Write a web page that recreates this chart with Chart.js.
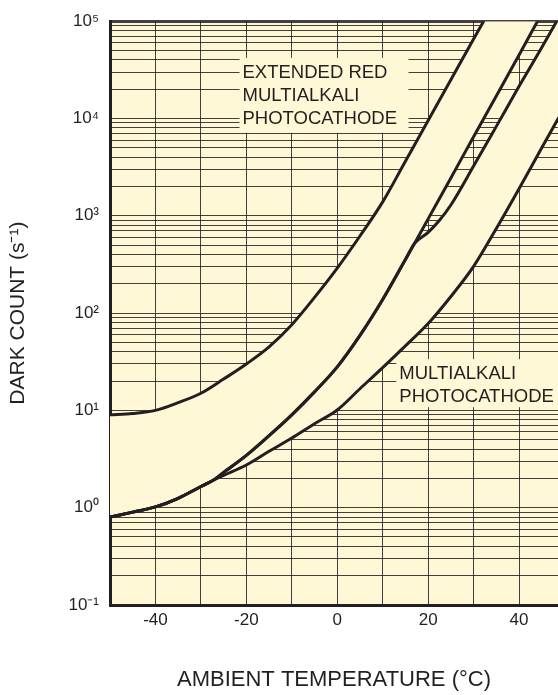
<!DOCTYPE html>
<html>
<head>
<meta charset="utf-8">
<title>Dark count vs ambient temperature</title>
<script src="https://cdn.jsdelivr.net/npm/chart.js@4.4.1/dist/chart.umd.min.js"></script>
<style>
  html, body { margin: 0; padding: 0; background: #fff; overflow: hidden; }
  #wrap { position: relative; width: 558px; height: 695px; }
</style>
</head>
<body>
<div id="wrap"><canvas id="darkCount"></canvas></div>
<script>
// temperature (°C) / dark count (s-1)
const extRedUpperT = [-50, -45, -40, -35, -30, -25, -20, -15, -10, -5, 0, 5, 10, 15, 20, 25, 30, 35, 40, 45, 50];
const extRedUpper  = [9.0, 9.3, 10, 12, 15, 21, 30, 45, 76, 145, 290, 620, 1390, 3640, 9550, 25000, 65500, 170000, 450000, 1200000, 3100000];

const extRedLowerT = [-50, -45, -40, -35, -30, -27, -25, -20, -15, -10, -5, 0, 5, 10, 15, 17, 20, 25, 30, 35, 40, 45, 50];
const extRedLower  = [0.8, 0.9, 1.02, 1.25, 1.65, 1.95, 2.3, 3.45, 5.5, 9, 15.5, 28, 59, 138, 355, 520, 930, 2450, 6500, 17000, 45000, 120000, 310000];

const multiUpperT = [-50, -45, -40, -35, -30, -27, -25, -20, -15, -10, -5, 0, 5, 10, 15, 17, 20, 22.5, 25, 30, 35, 40, 45, 50];
const multiUpper  = [0.8, 0.9, 1.02, 1.25, 1.65, 1.95, 2.3, 3.45, 5.5, 9, 15.5, 28, 59, 138, 355, 520, 676, 900, 1290, 3240, 8300, 21400, 53700, 138000];

const multiLowerT = [-50, -45, -40, -35, -30, -27, -25, -20, -15, -10, -5, 0, 5, 10, 15, 20, 25, 30, 35, 40, 45, 50];
const multiLower  = [0.8, 0.9, 1.02, 1.25, 1.65, 1.95, 2.15, 2.75, 3.8, 5.2, 7.3, 10.1, 16.7, 27.5, 46, 78, 148, 302, 740, 1900, 5000, 13000];

// axis ticks
const xGridValues = [-50, -40, -30, -20, -10, 0, 10, 20, 30, 40];
const xTickLabels = [-40, -20, 0, 20, 40];
const yDecades = [0.1, 1, 10, 100, 1000, 10000, 100000];
const yTickLabels = ['10⁻¹', '10⁰', '10¹', '10²', '10³', '10⁴', '10⁵'];

const extRedNote = ['EXTENDED RED', 'MULTIALKALI', 'PHOTOCATHODE'];
const multiNote = ['MULTIALKALI', 'PHOTOCATHODE'];

const PAPER = '#fff8d6';
const INK = '#231f20';
const GRID = 'rgba(35, 31, 32, 0.85)';
const FONT = '"Liberation Sans", Arial, Helvetica, sans-serif';

function toPoints(xs, ys) {
  return xs.map((t, i) => ({ x: t, y: ys[i] }));
}

// every 1..9 x decade gets a grid line
const yGridValues = [];
yDecades.forEach((d, i) => {
  if (i === yDecades.length - 1) { yGridValues.push(d); return; }
  for (let k = 1; k <= 9; k++) yGridValues.push(+(d * k).toPrecision(3));
});

const plotBackground = {
  id: 'plotBackground',
  beforeDraw(chart) {
    const { ctx, chartArea: a } = chart;
    ctx.save();
    ctx.fillStyle = PAPER;
    ctx.fillRect(a.left, a.top, a.right - a.left, a.bottom - a.top);
    ctx.restore();
  },
};

// text boxes that hide the grid behind them
const bandNotes = {
  id: 'bandNotes',
  beforeDatasetsDraw(chart) {
    const { ctx, chartArea: a, scales: { x, y } } = chart;
    const notes = [
      { x: -21.5, y: 42000, w: 169, h: 75, lines: extRedNote },
      { x: 13.0, y: 33.6, w: 170, h: 48, lines: multiNote },
    ];
    ctx.save();
    ctx.beginPath();
    ctx.rect(a.left, a.top, a.right - a.left, a.bottom - a.top);
    ctx.clip();
    ctx.font = '18.5px ' + FONT;
    ctx.textBaseline = 'alphabetic';
    notes.forEach(n => {
      const left = x.getPixelForValue(n.x);
      const top = y.getPixelForValue(n.y);
      ctx.fillStyle = PAPER;
      ctx.fillRect(left, top, n.w, n.h);
      ctx.fillStyle = INK;
      n.lines.forEach((line, i) => {
        ctx.fillText(line, left + 3, top + 20 + i * 23);
      });
    });
    ctx.restore();
  },
};

function curve(label, xs, ys, fill) {
  return {
    label: label,
    data: toPoints(xs, ys),
    borderColor: INK,
    borderWidth: 3,
    backgroundColor: PAPER,
    fill: fill,
    pointRadius: 0,
    cubicInterpolationMode: 'monotone',
    clip: 0,
  };
}

const ctx = document.getElementById('darkCount').getContext('2d');
new Chart(ctx, {
  type: 'line',
  data: {
    datasets: [
      curve('Extended red upper', extRedUpperT, extRedUpper, '+1'),
      curve('Extended red lower', extRedLowerT, extRedLower, false),
      curve('Multialkali upper', multiUpperT, multiUpper, '+1'),
      curve('Multialkali lower', multiLowerT, multiLower, false),
    ],
  },
  options: {
    responsive: true,
    maintainAspectRatio: false,
    animation: false,
    events: [],
    layout: { padding: { left: 0, right: 0, top: 16, bottom: 0 } },
    plugins: {
      legend: { display: false },
      tooltip: { enabled: false },
      filler: { drawTime: 'beforeDatasetsDraw' },
    },
    scales: {
      x: {
        type: 'linear',
        min: -50,
        max: 48.57,
        afterBuildTicks: s => { s.ticks = xGridValues.map(v => ({ value: v })); },
        afterFit: s => { s.height = 90; },
        border: { color: INK, width: 3 },
        grid: { color: GRID, lineWidth: 1, drawTicks: false },
        ticks: {
          autoSkip: false,
          maxRotation: 0,
          padding: 5,
          color: INK,
          font: { family: FONT, size: 17 },
          callback: v => (xTickLabels.indexOf(v) < 0 ? '' : String(v)),
        },
        title: {
          display: true,
          text: 'AMBIENT TEMPERATURE (°C)',
          color: INK,
          font: { family: FONT, size: 22 },
          padding: { top: 0, bottom: 2 },
        },
      },
      y: {
        type: 'logarithmic',
        min: 0.1,
        max: 100000,
        afterBuildTicks: s => { s.ticks = yGridValues.map(v => ({ value: v })); },
        afterFit: s => { s.width = 110; },
        border: { color: INK, width: 3 },
        grid: {
          color: GRID,
          lineWidth: c => (c.tick && c.tick.value === 100000 ? 3 : 1),
          drawTicks: false,
        },
        ticks: {
          autoSkip: false,
          padding: 11,
          color: INK,
          font: { family: FONT, size: 17 },
          callback: v => {
            const i = yDecades.indexOf(v);
            return i < 0 ? '' : yTickLabels[i];
          },
        },
        title: {
          display: true,
          text: 'DARK COUNT (s⁻¹)',
          color: INK,
          font: { family: FONT, size: 21 },
          padding: { top: 6, bottom: 0 },
        },
      },
    },
  },
  plugins: [plotBackground, bandNotes],
});
</script>
</body>
</html>
